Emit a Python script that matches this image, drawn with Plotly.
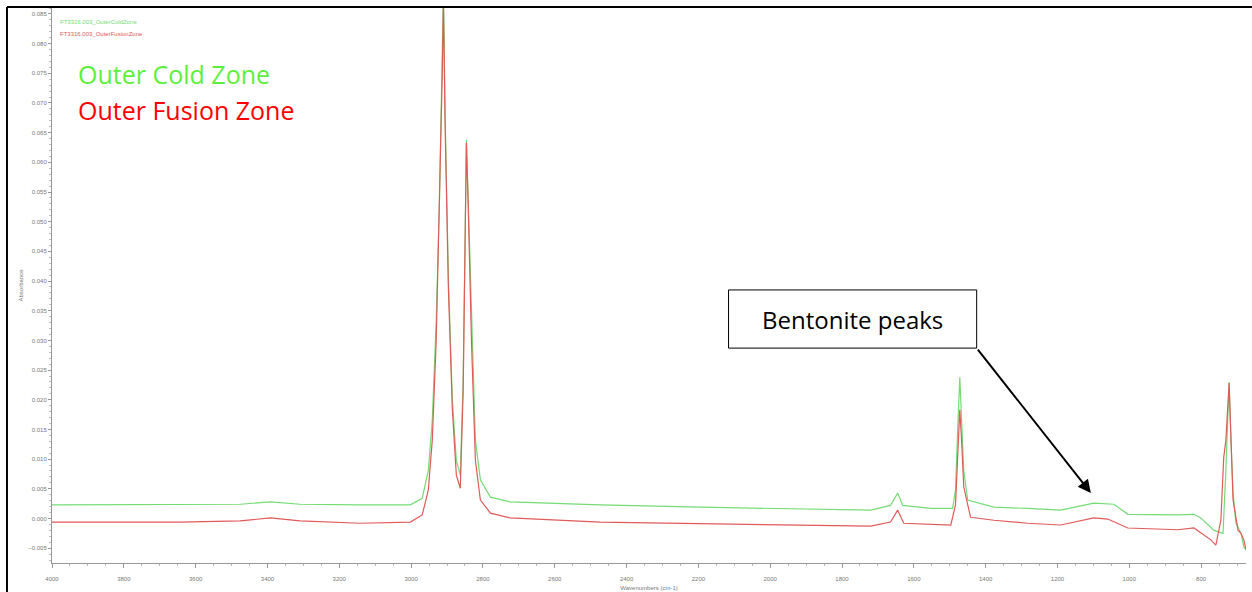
import plotly.graph_objects as go

# wavenumbers (cm-1) and absorbance
cold_wn = [4000, 3810, 3643, 3476, 3392, 3309, 3142, 3002, 2969, 2952, 2941, 2930, 2921, 2913, 2910,
           2905, 2896, 2885, 2874, 2863, 2855, 2846, 2841, 2832, 2821, 2807, 2779, 2724, 2473, 2194,
           1915, 1720, 1665, 1645, 1631, 1553, 1492, 1484, 1478, 1472, 1467, 1461, 1450, 1377, 1283,
           1191, 1099, 1043, 1004, 865, 820, 801, 764, 739, 731, 722, 717, 711, 703, 689, 681, 675]
cold_abs = [0.0023, 0.0023, 0.0023, 0.0024, 0.0028, 0.0024, 0.0023, 0.0023, 0.0034, 0.0081, 0.0166,
            0.0334, 0.0537, 0.0772, 0.0890, 0.0671, 0.0402, 0.0199, 0.0098, 0.0073, 0.0233, 0.0638,
            0.0537, 0.0318, 0.0132, 0.0065, 0.0036, 0.0028, 0.0023, 0.0019, 0.0016, 0.0014, 0.0022,
            0.0043, 0.0022, 0.0017, 0.0017, 0.0048, 0.0149, 0.0238, 0.0166, 0.0081, 0.0031, 0.0019,
            0.0017, 0.0014, 0.0026, 0.0024, 0.0007, 0.0006, 0.0007, 0.0001, -0.0020, -0.0025, 0.0082,
            0.0230, 0.0132, 0.0043, -0.0008, -0.0025, -0.0048, -0.0053]

fusion_wn = [4000, 3810, 3643, 3476, 3392, 3309, 3142, 3002, 2969, 2952, 2941, 2930, 2921, 2913, 2910,
             2905, 2896, 2885, 2874, 2863, 2855, 2846, 2841, 2832, 2821, 2807, 2779, 2724, 2473, 2194,
             1915, 1720, 1665, 1645, 1628, 1497, 1484, 1478, 1472, 1467, 1461, 1442, 1377, 1283, 1191,
             1099, 1060, 1004, 865, 820, 773, 759, 745, 737, 731, 722, 717, 711, 697, 689, 681, 675]
fusion_abs = [-0.0006, -0.0006, -0.0006, -0.0004, 0.0001, -0.0004, -0.0008, -0.0006, 0.0006, 0.0048,
              0.0132, 0.0301, 0.0520, 0.0756, 0.0870, 0.0654, 0.0385, 0.0183, 0.0073, 0.0051, 0.0216,
              0.0633, 0.0528, 0.0301, 0.0098, 0.0031, 0.0009, 0.0001, -0.0006, -0.0009, -0.0011,
              -0.0013, -0.0006, 0.0014, -0.0008, -0.0011, 0.0023, 0.0116, 0.0183, 0.0132, 0.0053,
              0.0002, -0.0003, -0.0008, -0.0011, 0.0001, -0.0001, -0.0016, -0.0019, -0.0016, -0.0036,
              -0.0045, -0.0003, 0.0103, 0.0132, 0.0228, 0.0132, 0.0031, -0.0020, -0.0025, -0.0036, -0.0053]

fig = go.Figure()
fig.add_trace(go.Scatter(x=cold_wn, y=cold_abs, mode="lines", name="Outer Cold Zone",
                         line=dict(color="#74dc74", width=1.2)))
fig.add_trace(go.Scatter(x=fusion_wn, y=fusion_abs, mode="lines", name="Outer Fusion Zone",
                         line=dict(color="#e05a5a", width=1.2)))

tickfont = dict(family="Liberation Sans", size=6, color="#777777")

fig.update_layout(
    width=1252, height=592,
    margin=dict(l=52, r=6, t=8, b=29),
    paper_bgcolor="white", plot_bgcolor="white",
    showlegend=False,
    xaxis=dict(range=[4000, 675], tickvals=list(range(4000, 799, -200)), ticks="outside",
               ticklen=4, tickcolor="#999999", showline=True, linecolor="#999999", linewidth=1,
               showgrid=False, zeroline=False, tickfont=tickfont, ticklabelstandoff=6,
               automargin=False,
               minor=dict(ticks="outside", ticklen=2, dtick=50, tickcolor="#bbbbbb"),
               title=dict(text="Wavenumbers (cm-1)", font=tickfont, standoff=4)),
    yaxis=dict(range=[-0.0075, 0.0860], dtick=0.005, tick0=0, tickformat=".3f", ticks="outside",
               ticklen=3, tickcolor="#999999", showline=True, linecolor="#999999", linewidth=1,
               showgrid=False, zeroline=False, tickfont=tickfont, automargin=False,
               minor=dict(ticks="outside", ticklen=2, dtick=0.001, tickcolor="#bbbbbb"),
               title=dict(text="Absorbance", font=tickfont, standoff=4)),
)

# small file-name legend in the corner
fig.add_annotation(xref="paper", yref="paper", x=0.005, y=0.984, xanchor="left", showarrow=False,
                   text="FT3316.003_OuterColdZone", font=dict(family="Liberation Sans", size=6, color="#74dc74"))
fig.add_annotation(xref="paper", yref="paper", x=0.005, y=0.962, xanchor="left", showarrow=False,
                   text="FT3316.003_OuterFusionZone", font=dict(family="Liberation Sans", size=6, color="#e05a5a"))

# big labels
fig.add_annotation(x=3932, y=0.0749, xanchor="left", showarrow=False, text="Outer Cold Zone",
                   font=dict(family="Open Sans", size=25, color="#5cf03c"))
fig.add_annotation(x=3932, y=0.0688, xanchor="left", showarrow=False, text="Outer Fusion Zone",
                   font=dict(family="Open Sans", size=25, color="#ff0000"))

# bentonite callout
fig.add_shape(type="rect", x0=2116, x1=1425, y0=0.0287, y1=0.0385,
              line=dict(color="black", width=1), fillcolor="white")
fig.add_annotation(x=1770, y=0.0336, showarrow=False, text="Bentonite peaks",
                   font=dict(family="Open Sans", size=24, color="black"))
fig.add_annotation(x=1107, y=0.0043, ax=1425, ay=0.0287, axref="x", ayref="y", text="",
                   showarrow=True, arrowhead=2, arrowsize=1.3, arrowwidth=2, arrowcolor="black")

# outer frame of the screenshot
fig.add_shape(type="line", xref="paper", yref="paper", x0=-0.0377, x1=-0.0377, y0=-0.06, y1=1.0018,
              line=dict(color="black", width=2))
fig.add_shape(type="line", xref="paper", yref="paper", x0=-0.0377, x1=1.01, y0=1.0018, y1=1.0018,
              line=dict(color="black", width=2))

fig.write_html("out.html", config={"displayModeBar": False},
               post_script="document.body.style.margin='0px';")
